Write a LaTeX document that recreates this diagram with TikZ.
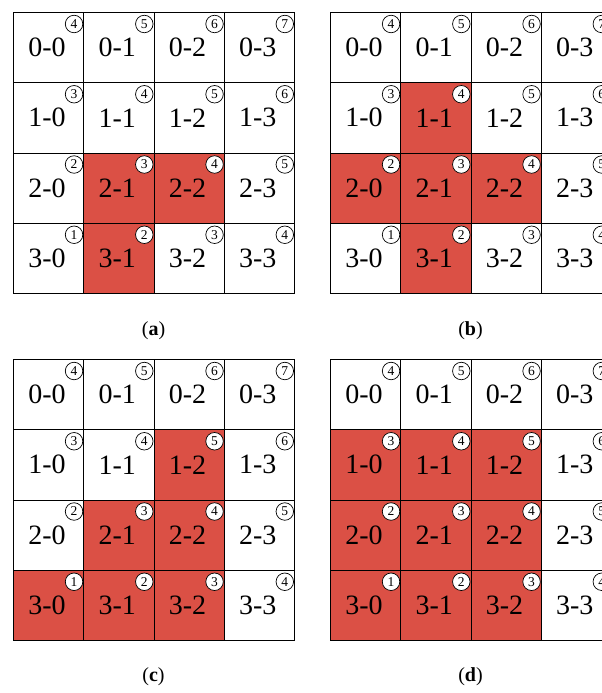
\documentclass[tikz,border=0pt]{standalone}
\usepackage{fontspec}
\setmainfont{Liberation Serif}
\definecolor{cellred}{RGB}{219,80,69}
\tikzset{
  hl a-2-1/.style={hot}, hl a-2-2/.style={hot}, hl a-3-1/.style={hot},
  hl b-1-1/.style={hot}, hl b-2-0/.style={hot}, hl b-2-1/.style={hot}, hl b-2-2/.style={hot}, hl b-3-1/.style={hot},
  hl c-1-2/.style={hot}, hl c-2-1/.style={hot}, hl c-2-2/.style={hot}, hl c-3-0/.style={hot}, hl c-3-1/.style={hot}, hl c-3-2/.style={hot},
  hl d-1-0/.style={hot}, hl d-1-1/.style={hot}, hl d-1-2/.style={hot}, hl d-2-0/.style={hot}, hl d-2-1/.style={hot}, hl d-2-2/.style={hot}, hl d-3-0/.style={hot}, hl d-3-1/.style={hot}, hl d-3-2/.style={hot},
}
\begin{document}
\begin{tikzpicture}[x=1pt,y=-1pt,
  cell/.style={draw=black, line width=0.8pt, minimum size=70.25pt, inner sep=0pt, fill=white,
    font=\fontsize{28}{28}\selectfont, anchor=north west},
  hot/.style={fill=cellred},
  badge/.style={circle, draw=black, line width=0.7pt, fill=white, minimum size=17.5pt, inner sep=0pt,
    font=\fontsize{13.5}{13.5}\selectfont},
  captxt/.style={font=\fontsize{20}{20}\selectfont}]
\useasboundingbox (0,0) rectangle (602,693);
\clip (0,0) rectangle (602,693);
\foreach \p/\xo/\yo in {a/13/12, b/330/12, c/13/359, d/330/359}{
  \foreach \r in {0,...,3}{
    \foreach \c in {0,...,3}{
      \pgfmathtruncatemacro\v{4-\r+\c}
      \node[cell, hl \p-\r-\c/.try] (\p-\r-\c) at (\xo+\c*70.25, \yo+\r*70.25) {\hspace*{-3pt}\r-\c};
      \node[badge] (\p-\r-\c-n) at ([xshift=-10pt,yshift=-12pt]\p-\r-\c.north east) {\v};
    }
  }
}
\node[captxt] (capa) at (153.5,331) {(\textbf{a})};
\node[captxt] (capb) at (470.5,331) {(\textbf{b})};
\node[captxt] (capc) at (153.5,677) {(\textbf{c})};
\node[captxt] (capd) at (470.5,677) {(\textbf{d})};
\end{tikzpicture}
\end{document}
